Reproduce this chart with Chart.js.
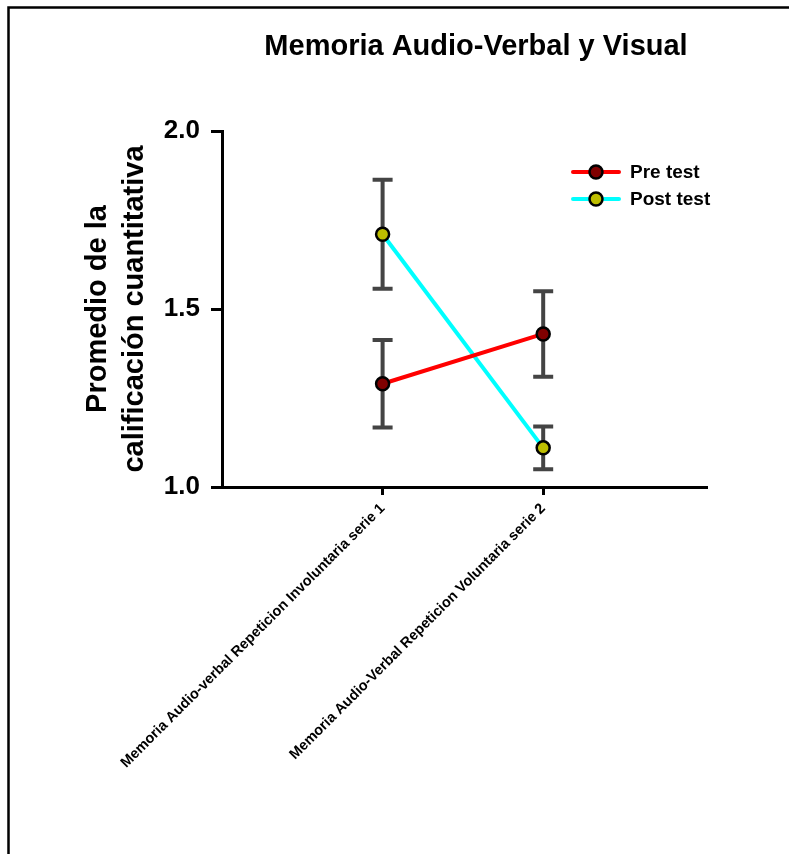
<!DOCTYPE html>
<html>
<head>
<meta charset="utf-8">
<script src="https://cdn.jsdelivr.net/npm/chart.js@4.4.1/dist/chart.umd.min.js"></script>
<style>
  html, body { margin: 0; padding: 0; background: #fff; }
  #wrap { width: 789px; height: 854px; position: relative; }
</style>
</head>
<body>
<div id="wrap"><canvas id="myChart" width="789" height="854"></canvas></div>
<script>
var categories = [
    "Memoria Audio-verbal Repeticion Involuntaria serie 1",
    "Memoria Audio-Verbal Repeticion Voluntaria serie 2"
];
var catPos = [1, 2];
var preMean = [1.29, 1.43];
var preErr = [0.123, 0.12];
var postMean = [1.71, 1.11];
var postErr = [0.153, 0.06];
var yTicks = [1.0, 1.5, 2.0];

var FONT = "'Liberation Sans', Arial, sans-serif";

function points(means) {
    var out = [];
    for (var i = 0; i < means.length; i++) {
        out.push({ x: catPos[i], y: means[i] });
    }
    return out;
}

// frame + title + legend + error bars
var extras = {
    id: 'extras',
    beforeDatasetsDraw: function(chart) {
        var ctx = chart.ctx;
        var xs = chart.scales.x, ys = chart.scales.y;
        ctx.save();
        ctx.strokeStyle = '#444444';
        ctx.lineWidth = 4;
        ctx.lineCap = 'butt';
        chart.data.datasets.forEach(function(ds) {
            ds.data.forEach(function(p, i) {
                var x = xs.getPixelForValue(p.x);
                var top = ys.getPixelForValue(p.y + ds.err[i]);
                var bot = ys.getPixelForValue(p.y - ds.err[i]);
                ctx.beginPath();
                ctx.moveTo(x, top); ctx.lineTo(x, bot);
                ctx.moveTo(x - 10, top); ctx.lineTo(x + 10, top);
                ctx.moveTo(x - 10, bot); ctx.lineTo(x + 10, bot);
                ctx.stroke();
            });
        });
        ctx.restore();
    },
    afterDraw: function(chart) {
        var ctx = chart.ctx;
        ctx.save();
        // frame (top and left only)
        ctx.strokeStyle = '#000';
        ctx.lineWidth = 2.5;
        ctx.beginPath();
        ctx.moveTo(8.5, 854); ctx.lineTo(8.5, 7.5); ctx.lineTo(789, 7.5);
        ctx.stroke();

        // title
        ctx.fillStyle = '#000';
        ctx.font = 'bold 29px ' + FONT;
        ctx.textAlign = 'center';
        ctx.textBaseline = 'middle';
        ctx.fillText('Memoria Audio-Verbal y Visual', 476, 47);

        // legend
        var lx = 573, ly = 172;
        chart.data.datasets.forEach(function(ds, i) {
            var y = ly + i * 27;
            ctx.strokeStyle = ds.borderColor;
            ctx.lineWidth = 4;
            ctx.lineCap = 'round';
            ctx.beginPath();
            ctx.moveTo(lx, y); ctx.lineTo(lx + 46, y);
            ctx.stroke();
            ctx.beginPath();
            ctx.arc(lx + 23, y, 6.5, 0, Math.PI * 2);
            ctx.fillStyle = ds.pointBackgroundColor;
            ctx.fill();
            ctx.lineWidth = 2.5;
            ctx.strokeStyle = '#000';
            ctx.stroke();
            ctx.fillStyle = '#000';
            ctx.font = 'bold 19px ' + FONT;
            ctx.textAlign = 'left';
            ctx.textBaseline = 'middle';
            ctx.fillText(ds.label, lx + 57, y + 1);
        });
        ctx.restore();
    }
};

var ctx = document.getElementById('myChart').getContext('2d');
var chart = new Chart(ctx, {
    type: 'line',
    data: {
        datasets: [{
            label: 'Pre test',
            data: points(preMean),
            err: preErr,
            borderColor: '#ff0000',
            borderWidth: 4,
            pointBackgroundColor: '#800000',
            pointBorderColor: '#000',
            pointBorderWidth: 2.5,
            pointRadius: 6.5,
            fill: false
        }, {
            label: 'Post test',
            data: points(postMean),
            err: postErr,
            borderColor: '#00ffff',
            borderWidth: 4,
            pointBackgroundColor: '#bdbd00',
            pointBorderColor: '#000',
            pointBorderWidth: 2.5,
            pointRadius: 6.5,
            fill: false
        }]
    },
    options: {
        responsive: false,
        animation: false,
        events: [],
        layout: { padding: { top: 131, left: 0, right: 82, bottom: 0 } },
        plugins: {
            legend: { display: false },
            tooltip: { enabled: false },
            title: { display: false }
        },
        scales: {
            x: {
                type: 'linear',
                min: 0,
                max: 3.02,
                afterBuildTicks: function(scale) {
                    scale.ticks = catPos.map(function(v) { return { value: v }; });
                },
                afterFit: function(scale) { scale.height = 854 - 487; },
                border: { display: true, color: '#000', width: 3 },
                grid: { drawOnChartArea: false, drawTicks: true, tickLength: 8, tickWidth: 3, tickColor: '#000' },
                ticks: {
                    autoSkip: false,
                    minRotation: 45,
                    maxRotation: 45,
                    padding: 5,
                    color: '#000',
                    font: { family: FONT, size: 14.5, weight: 'bold' },
                    callback: function(v) {
                        var i = catPos.indexOf(v);
                        return i >= 0 ? categories[i] : '';
                    }
                }
            },
            y: {
                min: 1,
                max: 2,
                afterBuildTicks: function(scale) {
                    scale.ticks = yTicks.map(function(v) { return { value: v }; });
                },
                afterFit: function(scale) { scale.width = 222; },
                border: { display: true, color: '#000', width: 3 },
                grid: { drawOnChartArea: false, drawTicks: true, tickLength: 11, tickWidth: 3, tickColor: '#000' },
                ticks: {
                    padding: 11,
                    color: '#000',
                    font: { family: FONT, size: 26, weight: 'bold' },
                    callback: function(v) { return v.toFixed(1); }
                },
                title: {
                    display: true,
                    text: ['Promedio de la', 'calificación cuantitativa'],
                    color: '#000',
                    font: { family: FONT, size: 29, weight: 'bold', lineHeight: 1.28 },
                    padding: { top: 79, bottom: 0 }
                }
            }
        }
    },
    plugins: [extras]
});
</script>
</body>
</html>
